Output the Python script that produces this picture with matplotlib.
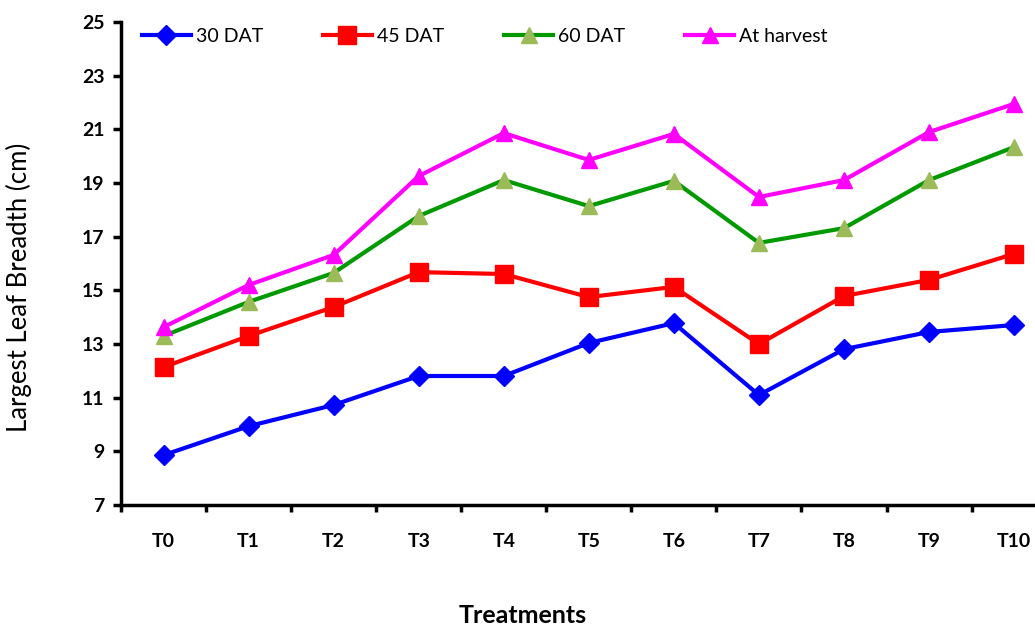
import numpy as np
import matplotlib
matplotlib.use("Agg")
import matplotlib.pyplot as plt

plt.rcParams['font.family'] = ['Lato', 'DejaVu Sans']

treatments = ['T0', 'T1', 'T2', 'T3', 'T4', 'T5', 'T6', 'T7', 'T8', 'T9', 'T10']
dat30 = [8.86, 9.94, 10.73, 11.81, 11.81, 13.04, 13.78, 11.10, 12.81, 13.45, 13.71]
dat45 = [12.14, 13.30, 14.38, 15.68, 15.61, 14.75, 15.13, 13.00, 14.79, 15.39, 16.36]
dat60 = [13.30, 14.57, 15.65, 17.77, 19.11, 18.14, 19.08, 16.77, 17.32, 19.11, 20.34]
harvest = [13.63, 15.20, 16.32, 19.26, 20.86, 19.86, 20.83, 18.48, 19.11, 20.90, 21.95]

x = np.arange(len(treatments))

fig = plt.figure(figsize=(10.35, 6.29), dpi=100, facecolor='w')
ax = fig.add_axes([0.1169, 0.197, 0.904, 0.768])

ax.plot(x, dat30, color='#0000FF', lw=3, marker='D', ms=10, mfc='#0000FF', mec='#0000FF', label='30 DAT')
ax.plot(x, dat45, color='#FF0000', lw=3, marker='s', ms=13, mfc='#FF0000', mec='#FF0000', label='45 DAT')
ax.plot(x, dat60, color='#009A00', lw=3, marker='^', ms=12, mfc='#9BBB59', mec='#9BBB59', label='60 DAT')
ax.plot(x, harvest, color='#FF00FF', lw=3, marker='^', ms=12, mfc='#FF00FF', mec='#FF00FF', label='At harvest')

ax.set_ylim(7, 25)
ax.set_yticks(np.arange(7, 26, 2))
ax.set_xlim(-0.5, 10.5)
ax.set_xticks(np.arange(-0.5, 11, 1))
ax.set_xticklabels([])
ax.set_xticks(x, minor=True)
ax.set_xticklabels(treatments, minor=True)

for s in ['top', 'right']:
    ax.spines[s].set_visible(False)
for s in ['left', 'bottom']:
    ax.spines[s].set_linewidth(2.5)

ax.tick_params(axis='y', which='major', direction='out', length=6, width=2.5, labelsize=14, pad=6)
ax.tick_params(axis='x', which='major', direction='out', length=5, width=2.5)
ax.tick_params(axis='x', which='minor', length=0, labelsize=14, pad=20)
for lab in ax.get_yticklabels() + ax.get_xticklabels(minor=True):
    lab.set_fontweight('bold')

ax.set_ylabel('Largest Leaf Breadth (cm)', fontsize=18.5)
ax.yaxis.set_label_coords(-0.095, 0.451)
ax.set_xlabel('Treatments', fontsize=18, fontweight='bold')
ax.xaxis.set_label_coords(0.4295, -0.205)

ax.legend(loc='center left', bbox_to_anchor=(0.0224, 0.971), ncol=4, frameon=False,
          fontsize=14, handlelength=2.5, columnspacing=3.1, handletextpad=0.26,
          borderpad=0, borderaxespad=0)

fig.savefig('out.png', dpi=100)
